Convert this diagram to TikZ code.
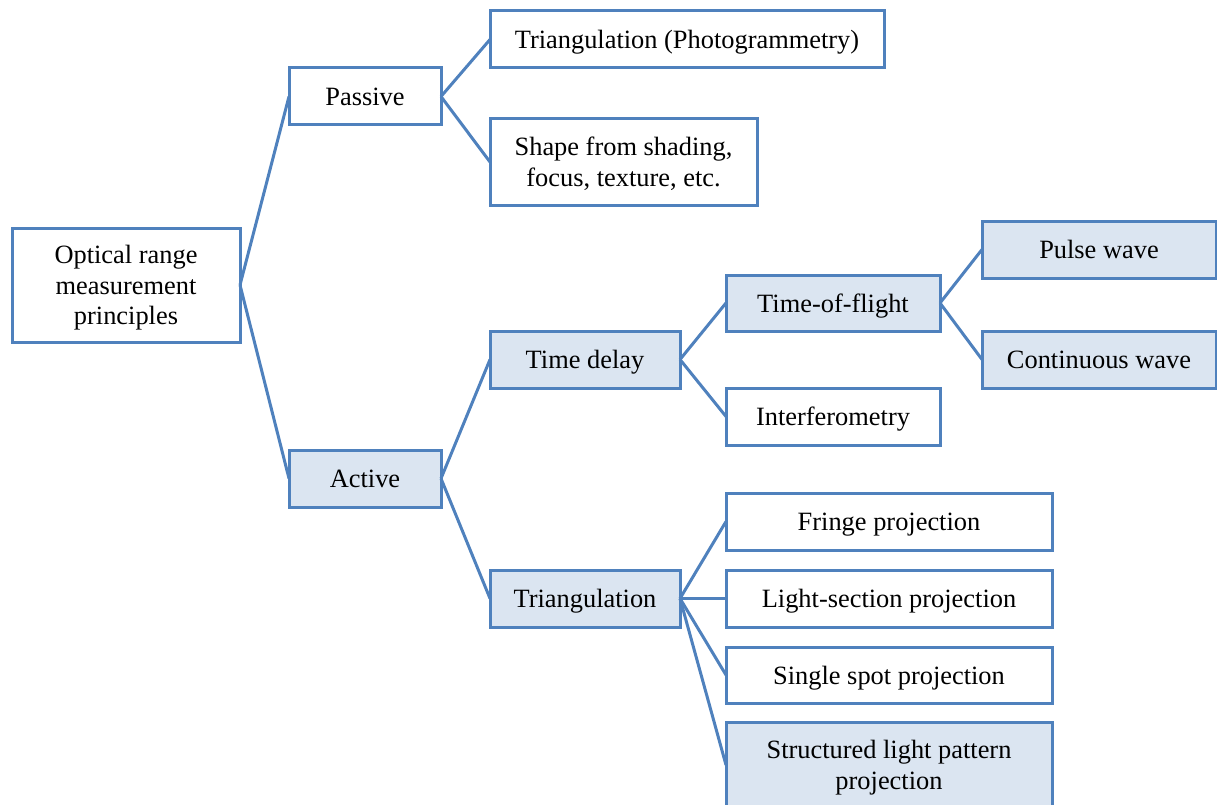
\documentclass[tikz,border=0pt]{standalone}
\usepackage{fontspec}
\setmainfont{Liberation Serif}
\definecolor{edgeblue}{HTML}{4F81BD}
\definecolor{fillblue}{HTML}{DBE5F1}
\newcommand\boxtext[1]{\raisebox{-3pt}[\height][\depth]{\begin{tabular}{@{}c@{}}#1\end{tabular}}}
\tikzset{
  box/.style={draw=edgeblue, line width=3pt, rectangle, inner sep=0pt, outer sep=0pt,
    font=\fontsize{26.4pt}{30.5pt}\selectfont, fill=white},
  bluebox/.style={box, fill=fillblue},
  link/.style={draw=edgeblue, line width=3pt}
}
\begin{document}
\begin{tikzpicture}[x=1pt,y=-1pt]
\useasboundingbox (0,0) rectangle (1217,805);
\begin{scope}
\clip (0,0) rectangle (1217,805);
\node[box, minimum width=228pt, minimum height=114pt] (root) at (126,285) {\boxtext{Optical range\\measurement\\principles}};
\node[box, minimum width=152pt, minimum height=57pt] (passive) at (365,96.5) {\boxtext{Passive}};
\node[bluebox, minimum width=152pt, minimum height=57pt] (active) at (365,478.5) {\boxtext{Active}};
\node[box, minimum width=394pt, minimum height=57pt] (tp) at (687,39.5) {\boxtext{Triangulation (Photogrammetry)}};
\node[box, minimum width=267pt, minimum height=86pt] (shape) at (623.5,162) {\boxtext{Shape from shading,\\focus, texture, etc.}};
\node[bluebox, minimum width=190pt, minimum height=57pt] (td) at (585,359.5) {\boxtext{Time delay}};
\node[bluebox, minimum width=190pt, minimum height=57pt] (tri) at (585,598.5) {\boxtext{Triangulation}};
\node[bluebox, minimum width=214pt, minimum height=56pt] (tof) at (833,303) {\boxtext{Time-of-flight}};
\node[box, minimum width=214pt, minimum height=57pt] (interf) at (833,416.5) {\boxtext{Interferometry}};
\node[bluebox, minimum width=234pt, minimum height=57pt] (pulse) at (1099,249.5) {\boxtext{Pulse wave}};
\node[bluebox, minimum width=234pt, minimum height=57pt] (cw) at (1099,359.5) {\boxtext{Continuous wave}};
\node[box, minimum width=326pt, minimum height=57pt] (fringe) at (889,521.5) {\boxtext{Fringe projection}};
\node[box, minimum width=326pt, minimum height=57pt] (light) at (889,598.5) {\boxtext{Light-section projection}};
\node[box, minimum width=326pt, minimum height=56pt] (single) at (889,675) {\boxtext{Single spot projection}};
\node[bluebox, minimum width=326pt, minimum height=86pt] (struct) at (889,765) {\boxtext{Structured light pattern\\projection}};
\draw[link] (root.east) -- (passive.west);
\draw[link] (root.east) -- (active.west);
\draw[link] (passive.east) -- (tp.west);
\draw[link] (passive.east) -- (shape.west);
\draw[link] (active.east) -- (td.west);
\draw[link] (active.east) -- (tri.west);
\draw[link] (td.east) -- (tof.west);
\draw[link] (td.east) -- (interf.west);
\draw[link] (tof.east) -- (pulse.west);
\draw[link] (tof.east) -- (cw.west);
\draw[link] (tri.east) -- (fringe.west);
\draw[link] (tri.east) -- (light.west);
\draw[link] (tri.east) -- (single.west);
\draw[link] (tri.east) -- (struct.west);
\end{scope}
\end{tikzpicture}
\end{document}
